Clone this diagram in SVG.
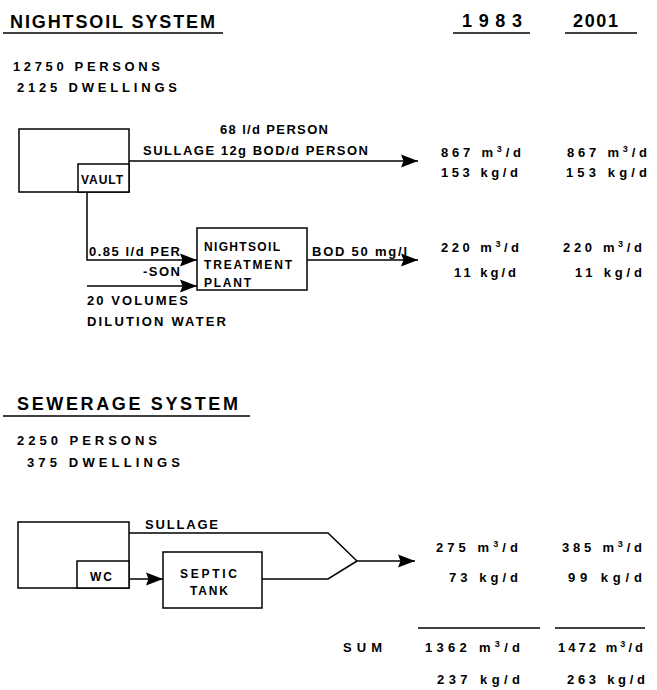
<svg xmlns="http://www.w3.org/2000/svg" width="657" height="690" viewBox="0 0 657 690">
<style>
text{font-family:"Liberation Sans",Arial,sans-serif;font-weight:bold;fill:#000}
.h{font-size:18px}
.t{font-size:13px}
.s{font-size:12px}
.sup{font-size:9px}
.b{fill:#fff;stroke:#000;stroke-width:1.5}
.c{fill:none;stroke:#000;stroke-width:1.5}
.u{stroke:#000;stroke-width:1.6}
</style>
<defs>
<marker id="ah" markerUnits="userSpaceOnUse" markerWidth="18" markerHeight="14" refX="17" refY="7" orient="auto">
<path d="M0,0.5 L17,7 L0,13.5 L2.5,7 Z" fill="#000"/>
</marker>
</defs>
<rect width="657" height="690" fill="#fff"/>

<g id="headings">
<text class="h" x="10" y="28" textLength="205" lengthAdjust="spacing">NIGHTSOIL SYSTEM</text>
<line class="u" x1="3" y1="33" x2="223" y2="33"/>
<text class="h" x="462" y="27" textLength="60" lengthAdjust="spacing">1983</text>
<line class="u" x1="453" y1="33" x2="530" y2="33"/>
<text class="h" x="573" y="27" textLength="45" lengthAdjust="spacing">2001</text>
<line class="u" x1="565" y1="33" x2="637" y2="33"/>
<text class="t" x="13" y="71" textLength="147" lengthAdjust="spacing">12750 PERSONS</text>
<text class="t" x="17" y="92" textLength="160" lengthAdjust="spacing">2125 DWELLINGS</text>
<text class="h" x="17" y="410" textLength="221" lengthAdjust="spacing">SEWERAGE SYSTEM</text>
<line class="u" x1="3" y1="416" x2="250" y2="416"/>
<text class="t" x="17" y="445" textLength="140" lengthAdjust="spacing">2250 PERSONS</text>
<text class="t" x="27" y="467" textLength="153" lengthAdjust="spacing">375 DWELLINGS</text>
</g>

<g id="connectors">
<line class="c" x1="129" y1="161" x2="418" y2="161" marker-end="url(#ah)"/>
<path class="c" d="M87,192 V260 H197" marker-end="url(#ah)"/>
<path class="c" d="M87,286 H197" marker-end="url(#ah)"/>
<path class="c" d="M307,260 H418" marker-end="url(#ah)"/>
<path class="c" d="M129,533 H328 L357,561"/>
<path class="c" d="M262,579 H328 L357,561"/>
<path class="c" d="M357,561 H415" marker-end="url(#ah)"/>
<path class="c" d="M129,579 H163" marker-end="url(#ah)"/>
</g>

<g id="dwelling-nightsoil">
<rect class="b" x="19" y="129" width="110" height="63"/>
</g>
<g id="vault">
<rect class="b" x="78" y="164" width="51" height="28"/>
<text class="s" x="81" y="184" textLength="42" lengthAdjust="spacing">VAULT</text>
</g>
<g id="treatment-plant">
<rect class="b" x="197" y="228" width="110" height="62"/>
<text class="s" x="204" y="251" textLength="76" lengthAdjust="spacing">NIGHTSOIL</text>
<text class="s" x="204" y="269" textLength="88" lengthAdjust="spacing">TREATMENT</text>
<text class="s" x="204" y="287" textLength="47" lengthAdjust="spacing">PLANT</text>
</g>
<g id="dwelling-sewerage">
<rect class="b" x="18" y="522" width="111" height="66"/>
</g>
<g id="wc">
<rect class="b" x="77" y="561" width="52" height="27"/>
<text class="s" x="90" y="581" textLength="22" lengthAdjust="spacing">WC</text>
</g>
<g id="septic-tank">
<rect class="b" x="163" y="552" width="99" height="56"/>
<text class="s" x="180" y="578" textLength="57" lengthAdjust="spacing">SEPTIC</text>
<text class="s" x="190" y="595" textLength="38" lengthAdjust="spacing">TANK</text>
</g>

<g id="flow-labels">
<text class="t" x="220" y="134" textLength="108" lengthAdjust="spacing">68 l/d PERSON</text>
<text class="t" x="143" y="155" textLength="225" lengthAdjust="spacing">SULLAGE 12g BOD/d PERSON</text>
<text class="t" x="89" y="256" textLength="91" lengthAdjust="spacing">0.85 l/d PER</text>
<text class="t" x="143" y="276" textLength="37" lengthAdjust="spacing">-SON</text>
<text class="t" x="87" y="305" textLength="101" lengthAdjust="spacing">20 VOLUMES</text>
<text class="t" x="87" y="326" textLength="139" lengthAdjust="spacing">DILUTION WATER</text>
<text class="t" x="312" y="256" textLength="95" lengthAdjust="spacing">BOD 50 mg/l</text>
<text class="t" x="145" y="529" textLength="73" lengthAdjust="spacing">SULLAGE</text>
</g>

<g id="values">
<text class="t" x="441" y="157" textLength="80" lengthAdjust="spacing">867 m<tspan class="sup" dy="-5">3</tspan><tspan dy="5">/d</tspan></text>
<text class="t" x="567" y="157" textLength="80" lengthAdjust="spacing">867 m<tspan class="sup" dy="-5">3</tspan><tspan dy="5">/d</tspan></text>
<text class="t" x="441" y="177" textLength="77" lengthAdjust="spacing">153 kg/d</text>
<text class="t" x="566" y="177" textLength="81" lengthAdjust="spacing">153 kg/d</text>
<text class="t" x="441" y="252" textLength="78" lengthAdjust="spacing">220 m<tspan class="sup" dy="-5">3</tspan><tspan dy="5">/d</tspan></text>
<text class="t" x="563" y="252" textLength="79" lengthAdjust="spacing">220 m<tspan class="sup" dy="-5">3</tspan><tspan dy="5">/d</tspan></text>
<text class="t" x="454" y="277" textLength="62" lengthAdjust="spacing">11 kg/d</text>
<text class="t" x="575" y="277" textLength="67" lengthAdjust="spacing">11 kg/d</text>
<text class="t" x="436" y="552" textLength="82" lengthAdjust="spacing">275 m<tspan class="sup" dy="-5">3</tspan><tspan dy="5">/d</tspan></text>
<text class="t" x="562" y="552" textLength="80" lengthAdjust="spacing">385 m<tspan class="sup" dy="-5">3</tspan><tspan dy="5">/d</tspan></text>
<text class="t" x="449" y="582" textLength="69" lengthAdjust="spacing">73 kg/d</text>
<text class="t" x="568" y="582" textLength="74" lengthAdjust="spacing">99 kg/d</text>
<line class="u" x1="418" y1="628" x2="540" y2="628"/>
<line class="u" x1="555" y1="628" x2="645" y2="628"/>
<text class="t" x="343" y="652" textLength="39" lengthAdjust="spacing">SUM</text>
<text class="t" x="425" y="652" textLength="95" lengthAdjust="spacing">1362 m<tspan class="sup" dy="-5">3</tspan><tspan dy="5">/d</tspan></text>
<text class="t" x="558" y="652" textLength="85" lengthAdjust="spacing">1472 m<tspan class="sup" dy="-5">3</tspan><tspan dy="5">/d</tspan></text>
<text class="t" x="437" y="684" textLength="83" lengthAdjust="spacing">237 kg/d</text>
<text class="t" x="567" y="684" textLength="78" lengthAdjust="spacing">263 kg/d</text>
</g>
</svg>
